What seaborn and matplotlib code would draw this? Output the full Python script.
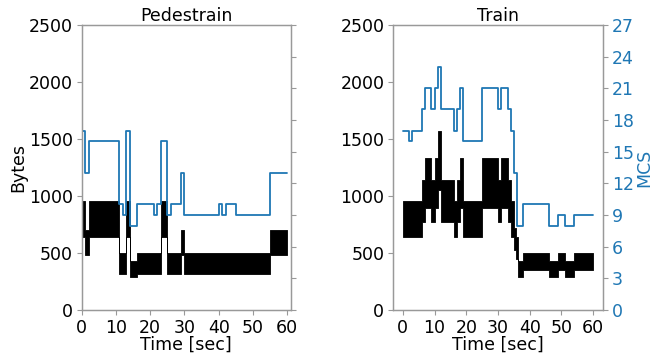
import matplotlib
matplotlib.use("Agg")
import matplotlib.pyplot as plt
import pandas as pd
import seaborn as sns

# Pedestrian trace: per-interval byte range (start time, low, high) and MCS steps
ped_t = [0, 1, 2, 11, 13, 14, 16, 23, 25, 29, 30, 55, 60]
ped_lo = [640, 480, 640, 320, 640, 288, 320, 640, 320, 480, 320, 480, 480]
ped_hi = [960, 704, 960, 496, 960, 432, 496, 960, 496, 704, 496, 704, 704]
ped_mcs_t = [0, 1, 2, 11, 12, 13, 14, 16, 21, 22, 23, 25, 26, 29, 30, 40, 41, 42, 45, 55, 60]
ped_mcs = [17, 13, 16, 10, 9, 17, 8, 10, 9, 10, 16, 9, 10, 13, 9, 10, 9, 10, 9, 13, 13]

# Train trace
tr_t = [0, 6, 7, 9, 10, 11, 12, 16, 17, 18, 19, 25, 30, 31, 33, 34, 35, 35.6, 36.3,
        38, 46, 49, 51, 54, 60]
tr_lo = [640, 768, 896, 768, 896, 1056, 768, 640, 768, 896, 640, 896, 768, 896, 768,
         640, 528, 448, 288, 352, 288, 352, 288, 352, 352]
tr_hi = [960, 1136, 1336, 1136, 1336, 1568, 1136, 960, 1136, 1336, 960, 1336, 1136,
         1336, 1136, 960, 720, 640, 432, 496, 432, 496, 432, 496, 496]
tr_mcs_t = [0, 2, 3, 6, 7, 9, 10, 11, 12, 16, 17, 18, 19, 25, 30, 31, 33, 34, 35, 36,
            38, 46, 49, 51, 54, 60]
tr_mcs = [17, 16, 17, 19, 21, 19, 21, 23, 19, 17, 19, 21, 16, 21, 19, 21, 19, 17, 13, 8,
          10, 8, 9, 8, 9, 9]

time_ticks = [0, 10, 20, 30, 40, 50, 60]
byte_ticks = [0, 500, 1000, 1500, 2000, 2500]
mcs_ticks = list(range(0, 28, 3))

BLUE = "#1f77b4"
FS = 12.5

sns.set_theme(style="ticks", rc={
    "axes.edgecolor": "0.6",
    "axes.linewidth": 0.9,
    "xtick.color": "0.6",
    "ytick.color": "0.6",
    "xtick.labelcolor": "black",
    "ytick.labelcolor": "black",
    "xtick.major.size": 3.5,
    "ytick.major.size": 3.5,
    "xtick.major.width": 0.8,
    "ytick.major.width": 0.8,
    "xtick.major.pad": 3.0,
    "ytick.major.pad": 3.0,
    "xtick.labelsize": FS,
    "ytick.labelsize": FS,
    "axes.labelsize": FS,
    "axes.titlesize": FS,
    "text.color": "black",
    "axes.labelcolor": "black",
})
plt.rcParams["font.family"] = ["DejaVu Sans"]

fig = plt.figure(figsize=(6.61, 3.55), dpi=100)
ax_l = fig.add_axes([0.1236, 0.1268, 0.3162, 0.8028])
ax_r = fig.add_axes([0.595, 0.1268, 0.3168, 0.8028])


def draw_panel(ax, t, lo, hi, mt, mcs, title, xlim, bytes_label, mcs_labels):
    ax.fill_between(t, lo, hi, step="post", facecolor="black",
                    edgecolor="black", linewidth=0.6)
    ax.set_xlim(*xlim)
    ax.set_ylim(0, 2500)
    ax.set_xticks(time_ticks)
    ax.set_yticks(byte_ticks)
    ax.set_xlabel("Time [sec]", labelpad=-1)
    ax.set_title(title, pad=2)
    if bytes_label:
        ax.set_ylabel("Bytes", labelpad=1)

    tw = ax.twinx()
    df = pd.DataFrame({"t": mt, "mcs": mcs})
    sns.lineplot(data=df, x="t", y="mcs", ax=tw, drawstyle="steps-post",
                 color=BLUE, linewidth=1.3)
    tw.set_ylim(0, 27)
    tw.set_yticks(mcs_ticks)
    tw.set_xlabel("")
    if mcs_labels:
        tw.tick_params(axis="y", labelcolor=BLUE)
        tw.set_ylabel("MCS", color=BLUE, labelpad=1)
    else:
        tw.set_yticklabels([])
        tw.set_ylabel("")
    for s in tw.spines.values():
        s.set_color("0.6")
    return tw


draw_panel(ax_l, ped_t, ped_lo, ped_hi, ped_mcs_t, ped_mcs, "Pedestrain",
           (0, 61), True, False)
draw_panel(ax_r, tr_t, tr_lo, tr_hi, tr_mcs_t, tr_mcs, "Train",
           (-3, 63), False, True)

fig.savefig("out.png", dpi=100)
